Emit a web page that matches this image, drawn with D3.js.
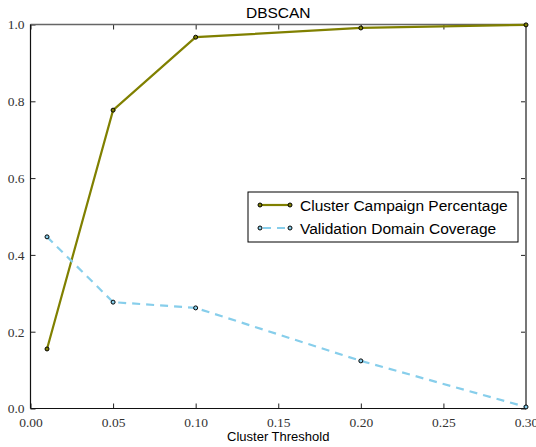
<!DOCTYPE html>
<html>
<head>
<meta charset="utf-8">
<script src="https://cdn.jsdelivr.net/npm/d3@7"></script>
<style>
  body { margin: 0; background: #fff; }
</style>
</head>
<body>
<div id="chart"></div>
<script>
// data
const thresholds = [0.01, 0.05, 0.10, 0.20, 0.30];
const campaignPct = [0.155, 0.777, 0.967, 0.991, 0.999];
const domainCoverage = [0.447, 0.277, 0.262, 0.124, 0.004];
const xTicks = [0.00, 0.05, 0.10, 0.15, 0.20, 0.25, 0.30];
const yTicks = [0.0, 0.2, 0.4, 0.6, 0.8, 1.0];

const width = 536, height = 447;
const margin = { top: 24.5, right: 10, bottom: 38.5, left: 30.5 };
const w = width - margin.left - margin.right;
const h = height - margin.top - margin.bottom;

const svg = d3.select('#chart')
    .append('svg')
    .attr('width', width)
    .attr('height', height);

const g = svg.append('g')
    .attr('transform', `translate(${margin.left},${margin.top})`);

const x = d3.scaleLinear().domain([0, 0.3]).range([0, w]);
const y = d3.scaleLinear().domain([0, 1]).range([h, 0]);

// axes, ticks pointing inward like matplotlib classic
g.append('g')
    .attr('transform', `translate(0,${h})`)
    .call(d3.axisBottom(x).tickValues(xTicks).tickFormat(d3.format('.2f')).tickSizeInner(-5).tickSizeOuter(0).tickPadding(9))
    .call(a => a.select('.domain').remove());
g.append('g')
    .call(d3.axisTop(x).tickValues(xTicks).tickFormat('').tickSizeInner(-5).tickSizeOuter(0))
    .call(a => a.select('.domain').remove());
g.append('g')
    .call(d3.axisLeft(y).tickValues(yTicks).tickFormat(d3.format('.1f')).tickSizeInner(-5).tickSizeOuter(0).tickPadding(6))
    .call(a => a.select('.domain').remove());
g.append('g')
    .attr('transform', `translate(${w},0)`)
    .call(d3.axisRight(y).tickValues(yTicks).tickFormat('').tickSizeInner(-5).tickSizeOuter(0))
    .call(a => a.select('.domain').remove());

g.selectAll('.tick line').attr('stroke', '#222');
g.selectAll('.tick text')
    .style('font-family', '"Liberation Serif", "Times New Roman", serif')
    .style('font-size', '13.5px')
    .style('fill', '#333');

// spines
g.append('line').attr('x1', 0).attr('x2', w).attr('y1', 0).attr('y2', 0)
    .attr('stroke', '#666').attr('stroke-width', 1.5);
g.append('line').attr('x1', w).attr('x2', w).attr('y1', 0).attr('y2', h)
    .attr('stroke', '#777').attr('stroke-width', 2);
g.append('line').attr('x1', 0).attr('x2', 0).attr('y1', 0).attr('y2', h)
    .attr('stroke', '#111').attr('stroke-width', 1.2);
g.append('line').attr('x1', 0).attr('x2', w).attr('y1', h).attr('y2', h)
    .attr('stroke', '#111').attr('stroke-width', 1.2);

const series = [
    { name: 'Cluster Campaign Percentage', values: campaignPct, color: '#808000', dash: null },
    { name: 'Validation Domain Coverage', values: domainCoverage, color: '#87CEEB', dash: '8,6' }
];

const line = d3.line()
    .x(d => x(d[0]))
    .y(d => y(d[1]));

const plot = g.append('g');

series.forEach(s => {
    const pts = thresholds.map((t, i) => [t, s.values[i]]);
    plot.append('path')
        .datum(pts)
        .attr('fill', 'none')
        .attr('stroke', s.color)
        .attr('stroke-width', 2.2)
        .attr('stroke-dasharray', s.dash)
        .attr('d', line);
    plot.selectAll(null)
        .data(pts)
        .enter()
        .append('circle')
        .attr('cx', d => x(d[0]))
        .attr('cy', d => y(d[1]))
        .attr('r', 2)
        .attr('fill', s.color)
        .attr('stroke', '#000')
        .attr('stroke-width', 1);
});

// title and axis label
svg.append('text')
    .attr('x', margin.left + w / 2)
    .attr('y', 18)
    .attr('text-anchor', 'middle')
    .style('font-family', '"Liberation Sans", Arial, sans-serif')
    .style('font-size', '15.5px')
    .text('DBSCAN');

svg.append('text')
    .attr('x', margin.left + w / 2)
    .attr('y', 441)
    .attr('text-anchor', 'middle')
    .style('font-family', '"Liberation Sans", Arial, sans-serif')
    .style('font-size', '13px')
    .text('Cluster Threshold');

// legend
const legend = svg.append('g').attr('transform', 'translate(248,192)');
legend.append('rect')
    .attr('width', 270).attr('height', 50)
    .attr('fill', '#fff').attr('stroke', '#000').attr('stroke-width', 1);

series.forEach((s, i) => {
    const item = legend.append('g').attr('transform', `translate(0,${13 + i * 23})`);
    item.append('line')
        .attr('x1', 12).attr('x2', 42).attr('y1', 0).attr('y2', 0)
        .attr('stroke', s.color).attr('stroke-width', 2.2)
        .attr('stroke-dasharray', s.dash ? '8,6' : null)
        .attr('stroke-dashoffset', s.dash ? -3 : null);
    [12, 42].forEach(cx => {
        item.append('circle')
            .attr('cx', cx).attr('cy', 0).attr('r', 2)
            .attr('fill', s.color).attr('stroke', '#000').attr('stroke-width', 1);
    });
    item.append('text')
        .attr('x', 52).attr('y', 5.5)
        .style('font-family', '"Liberation Sans", Arial, sans-serif')
        .style('font-size', '15.5px')
        .text(s.name);
});
</script>
</body>
</html>
